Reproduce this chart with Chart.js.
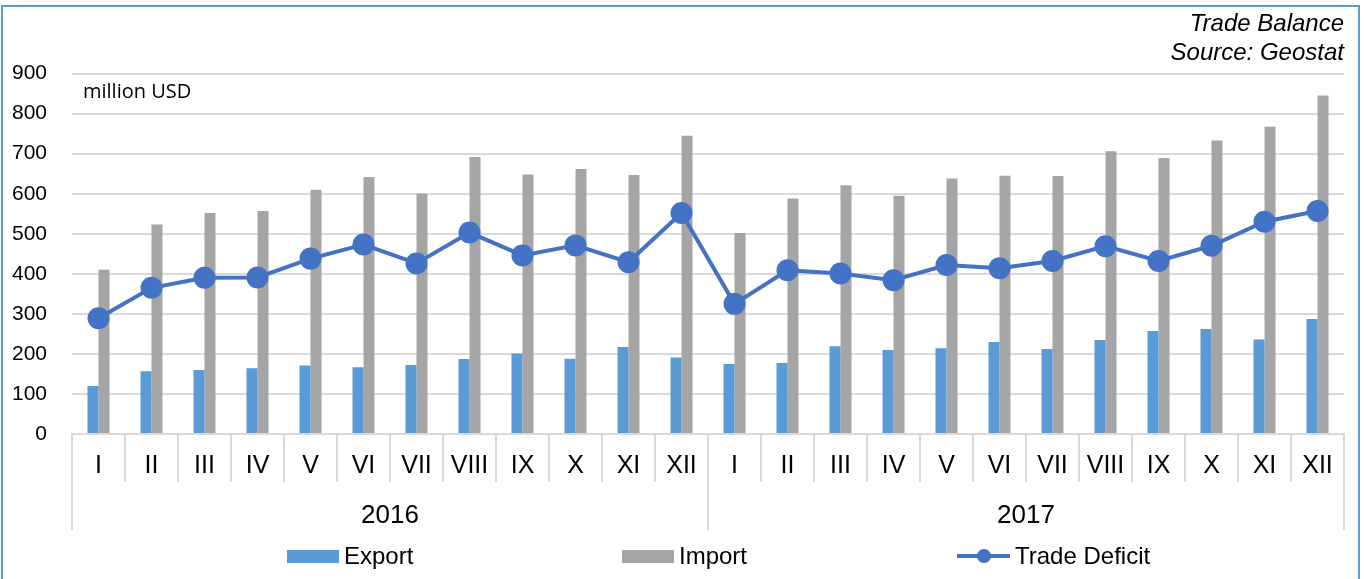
<!DOCTYPE html>
<html>
<head>
<meta charset="utf-8">
<script src="https://cdn.jsdelivr.net/npm/chart.js@4/dist/chart.umd.min.js"></script>
<style>
  html, body { margin: 0; padding: 0; background: #fff; }
  #wrap { position: relative; width: 1364px; height: 579px; overflow: hidden; }
  #frame { position: absolute; left: 1px; top: 5px; width: 1359px; height: 700px;
           border: 2px solid #5b9bd5; box-sizing: border-box; }
  #chart { position: absolute; left: 0; top: 0; }
  #legend { position: absolute; left: 287px; top: 541px; display: flex;
            font: 24px "Liberation Sans", Arial, sans-serif; color: #000; }
  .item { width: 335px; height: 30px; display: flex; align-items: center; white-space: nowrap; }
  .box { width: 52px; height: 13px; margin-right: 5px; }
  .lineSw { position: relative; width: 53px; height: 14px; margin-right: 5px; }
  .lineSw .ln { position: absolute; left: 0; top: 5px; width: 53px; height: 4px; }
  .lineSw .dot { position: absolute; left: 19.5px; top: 0; width: 14px; height: 14px; border-radius: 50%; }
</style>
</head>
<body>
<div id="wrap">
  <div id="frame"></div>
  <canvas id="chart" width="1364" height="579"></canvas>
  <div id="legend"></div>
</div>
<script>
// Monthly trade figures, million USD
const years = ['2016', '2017'];
const months = ['I', 'II', 'III', 'IV', 'V', 'VI', 'VII', 'VIII', 'IX', 'X', 'XI', 'XII'];
const monthLabels = years.flatMap(() => months);

const exportValues = [120, 157, 160, 164, 171, 167, 172, 187, 201, 188, 217, 191,
                      175, 177, 219, 210, 214, 230, 212, 235, 257, 262, 236, 287];
const importValues = [410, 523, 552, 557, 610, 642, 600, 692, 648, 662, 647, 745,
                      502, 588, 621, 595, 638, 645, 644, 706, 689, 733, 767, 845];
const deficitValues = [289, 365, 390, 391, 438, 473, 426, 503, 446, 471, 429, 552,
                       325, 409, 401, 384, 422, 414, 432, 469, 432, 470, 530, 557];

const yTicks = [0, 100, 200, 300, 400, 500, 600, 700, 800, 900];

const COLORS = { exp: '#5b9bd5', imp: '#a5a5a5', def: '#4472c4', grid: '#d9d9d9' };
const FONT = '"Liberation Sans", Arial, Helvetica, sans-serif';

Chart.defaults.font.family = FONT;
Chart.defaults.color = '#000';

// Unit caption in the upper-left corner of the plot area
const unitLabel = {
  id: 'unitLabel',
  beforeDatasetsDraw(chart) {
    const { ctx, chartArea } = chart;
    ctx.save();
    ctx.font = '20px "Open Sans", sans-serif';
    ctx.fillStyle = '#000';
    ctx.textAlign = 'left';
    ctx.textBaseline = 'alphabetic';
    ctx.fillText('million USD', chartArea.left + 11, chartArea.top + 24);
    ctx.restore();
  }
};

const chart = new Chart(document.getElementById('chart'), {
  data: {
    labels: monthLabels,
    datasets: [
      { type: 'bar', label: 'Export', data: exportValues, backgroundColor: COLORS.exp,
        order: 2, categoryPercentage: 0.415, barPercentage: 1.0 },
      { type: 'bar', label: 'Import', data: importValues, backgroundColor: COLORS.imp,
        order: 2, categoryPercentage: 0.415, barPercentage: 1.0 },
      { type: 'line', label: 'Trade Deficit', data: deficitValues,
        borderColor: COLORS.def, backgroundColor: COLORS.def, borderWidth: 4,
        pointRadius: 11, pointHoverRadius: 11, pointBorderWidth: 0,
        pointBackgroundColor: COLORS.def, tension: 0, order: 1 }
    ]
  },
  options: {
    responsive: false,
    animation: false,
    devicePixelRatio: 1,
    layout: { padding: { left: 0, right: 20, top: 0, bottom: 48 } },
    plugins: {
      legend: { display: false },
      tooltip: { enabled: false },
      title: {
        display: true, text: 'Trade Balance', align: 'end', color: '#000',
        font: { size: 24, style: 'italic', weight: 'normal' },
        padding: { top: 10, bottom: 0 }
      },
      subtitle: {
        display: true, text: 'Source: Geostat', align: 'end', color: '#000',
        font: { size: 24, style: 'italic', weight: 'normal' },
        padding: { top: 0, bottom: 6 }
      }
    },
    scales: {
      x: {
        type: 'category',
        position: 'bottom',
        weight: 0,
        offset: true,
        grid: { display: true, drawOnChartArea: false, offset: true,
                tickLength: 48, color: COLORS.grid, lineWidth: 2 },
        border: { display: true, color: COLORS.grid, width: 2 },
        ticks: { autoSkip: false, maxRotation: 0, minRotation: 0,
                 font: { size: 25 }, color: '#000', padding: -31 },
        afterFit: (s) => { s.height = 47; }
      },
      yearAxis: {
        type: 'category',
        labels: years,
        position: 'bottom',
        weight: 1,
        offset: true,
        grid: { display: true, drawOnChartArea: false, offset: true,
                tickLength: 49, color: COLORS.grid, lineWidth: 2 },
        border: { display: false },
        ticks: { autoSkip: false, maxRotation: 0, font: { size: 26 }, color: '#000', padding: -30 },
        afterFit: (s) => { s.height = 50; }
      },
      y: {
        min: 0, max: 900,
        afterBuildTicks: (s) => { s.ticks = yTicks.map(v => ({ value: v })); },
        grid: { color: COLORS.grid, lineWidth: 2, drawTicks: false },
        border: { display: false },
        ticks: { font: { size: 21 }, color: '#000', padding: 25 },
        afterFit: (s) => { s.width = 72; }
      }
    }
  },
  plugins: [unitLabel]
});

// Legend row built from the chart's datasets
const legendEl = document.getElementById('legend');
chart.data.datasets.forEach((ds) => {
  const item = document.createElement('div');
  item.className = 'item';
  if (ds.type === 'line') {
    const sw = document.createElement('div');
    sw.className = 'lineSw';
    const ln = document.createElement('div');
    ln.className = 'ln';
    ln.style.background = ds.borderColor;
    const dot = document.createElement('div');
    dot.className = 'dot';
    dot.style.background = ds.pointBackgroundColor;
    sw.appendChild(ln);
    sw.appendChild(dot);
    item.appendChild(sw);
  } else {
    const sw = document.createElement('div');
    sw.className = 'box';
    sw.style.background = ds.backgroundColor;
    item.appendChild(sw);
  }
  const txt = document.createElement('span');
  txt.textContent = ds.label;
  item.appendChild(txt);
  legendEl.appendChild(item);
});
</script>
</body>
</html>
